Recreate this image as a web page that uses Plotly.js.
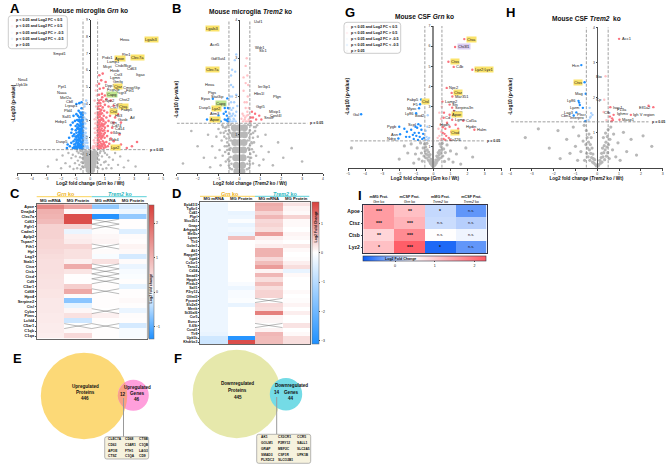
<!DOCTYPE html>
<html><head><meta charset="utf-8">
<script src="https://cdn.plot.ly/plotly-3.0.1.min.js"></script>
<style>html,body{margin:0;padding:0;background:#fff}#g{width:669px;height:470px}</style></head>
<body><div id="g"></div>
<script>
// ---------- Panel A: microglia Grn ko ----------
const aBlue=[[-.55,1.35],[-.6,1.5],[-.7,1.4],[-.8,1.45],[-.9,1.35],[-1.0,1.5],[-.55,1.7],[-.65,1.75],[-.75,1.65],[-.85,1.7],[-.95,1.75],[-1.1,1.6],[-.55,1.95],[-.65,2.0],[-.75,1.95],[-.85,1.9],[-.95,2.0],[-1.05,1.9],[-.55,2.2],[-.65,2.25],[-.75,2.2],[-.85,2.15],[-.95,2.3],[-1.1,2.2],[-.55,2.45],[-.65,2.5],[-.72,2.4],[-.8,2.5],[-.9,2.55],[-1.0,2.45],[-.55,2.7],[-.62,2.75],[-.7,2.7],[-.8,2.75],[-.88,2.8],[-1.0,2.7],[-.55,2.95],[-.62,3.0],[-.7,2.95],[-.8,3.0],[-.9,3.05],[-1.05,3.0],[-.55,3.2],[-.65,3.25],[-.75,3.2],[-.85,3.3],[-.55,3.5],[-.7,3.5],[-.6,3.75],[-.8,3.6],[-.95,3.4],[-1.2,2.9],[-1.25,2.5],[-1.2,2.1],[-1.3,1.7],[-1.2,1.4],[-1.4,1.5],[-1.55,1.6],[-1.45,2.0],[-1.6,1.4],[-1.3,2.3],[-1.35,2.75],[-.6,4.1],[-.75,4.05],[-.95,4.0],[-1.15,3.3],[-.58,1.42],[-.68,1.55],[-.78,1.82],[-.62,2.1],[-.7,2.32],[-.58,2.58],[-.66,2.85],[-.6,3.08],[-.85,1.55],[-.92,1.85],[-.52,1.5],[-.6,1.62],[-.72,1.52],[-.82,1.6],[-.98,1.42],[-1.08,1.38],[-.52,1.82],[-.7,1.85],[-.88,1.45],[-.9,2.1],[-1.02,2.08],[-.52,2.08],[-.68,2.12],[-.8,2.05],[-.52,2.32],[-.62,2.38],[-.8,2.32],[-.52,2.62],[-.7,2.55],[-.85,2.62],[-1.1,1.45],[-1.15,1.8],[-1.0,1.65],[-.52,3.05],[-.52,3.35],[-.62,3.4],[-.76,3.05],[-.52,2.82]];
const aPaleBlue=[[-.45,1.4],[-.35,1.5],[-.25,1.4],[-.45,1.7],[-.3,1.7],[-.2,1.5],[-.45,2.0],[-.35,2.0],[-.25,1.85],[-.45,2.3],[-.32,2.3],[-.42,2.6],[-.3,2.55],[-.45,2.9],[-.35,2.85],[-.42,3.2],[-.3,3.1],[-.45,3.5],[-.35,3.45],[-.4,3.85],[-.28,4.2],[-.35,4.0],[-.15,1.4],[-.4,1.55],[-.2,1.7],[-.38,1.85],[-.28,2.1],[-.4,2.15],[-.48,1.5],[-.48,1.85],[-.48,2.15],[-.48,2.45],[-.48,2.75],[-.48,3.05]];
const aPink=[[.55,1.35],[.62,1.45],[.72,1.38],[.82,1.5],[.92,1.4],[1.05,1.45],[1.2,1.5],[.55,1.7],[.65,1.75],[.75,1.65],[.85,1.8],[.95,1.7],[1.1,1.75],[1.3,1.65],[.55,2.0],[.65,2.05],[.75,1.95],[.85,2.1],[.98,2.0],[1.15,2.1],[1.4,1.95],[.55,2.3],[.65,2.35],[.75,2.25],[.85,2.4],[1.0,2.3],[1.2,2.4],[1.45,2.3],[.55,2.6],[.65,2.65],[.78,2.55],[.88,2.7],[1.0,2.6],[1.2,2.7],[1.5,2.6],[.55,2.9],[.65,2.95],[.78,2.85],[.9,3.0],[1.05,2.9],[1.25,3.0],[1.6,2.9],[.55,3.2],[.65,3.25],[.78,3.15],[.92,3.3],[1.1,3.2],[1.35,3.3],[1.7,3.2],[.55,3.5],[.68,3.55],[.8,3.45],[.95,3.6],[1.15,3.5],[1.45,3.6],[.55,3.85],[.7,3.9],[.85,3.8],[1.0,3.95],[1.25,3.85],[1.6,3.9],[.6,4.2],[.75,4.25],[.9,4.15],[1.1,4.3],[1.4,4.2],[.6,4.55],[.8,4.6],[1.0,4.5],[1.2,4.65],[.65,4.9],[.9,4.95],[.6,5.2],[.75,5.4],[1.05,5.3],[.62,5.7],[.85,5.8],[2.1,1.6],[2.5,1.4],[3.2,1.75],[2.85,1.5],[2.0,2.2],[2.1,2.9],[1.9,3.4],[1.75,1.5],[1.6,1.8],[.6,1.55],[.7,2.15],[.8,2.75],[.6,3.05],[.7,3.4],[.52,1.5],[.58,1.85],[.68,1.5],[.78,1.52],[.88,1.62],[1.0,1.55],[.52,2.15],[.62,2.2],[.8,2.05],[.92,2.2],[.52,2.45],[.6,2.5],[.72,2.45],[.95,2.45],[.52,2.75],[.62,2.8],[.72,2.72],[.95,2.8],[.52,3.35],[.62,3.4],[.72,3.05],[.85,3.1],[.52,3.7],[.62,3.7],[.75,3.65],[.52,4.05],[.68,4.05],[.82,4.4]];
const aPalePink=[[.45,1.4],[.35,1.5],[.25,1.4],[.45,1.7],[.3,1.7],[.2,1.5],[.45,2.0],[.35,2.0],[.25,1.85],[.45,2.3],[.32,2.3],[.42,2.6],[.3,2.55],[.45,2.9],[.35,2.85],[.42,3.2],[.3,3.1],[.45,3.5],[.35,3.45],[.4,3.85],[.3,4.2],[.45,4.5],[.38,4.8],[.15,1.4],[.4,1.55],[.42,5.1],[.48,1.5],[.48,1.85],[.48,2.15],[.48,2.45],[.48,2.75],[.48,3.05]];
const aGray=[[-2.9,.3],[-2.3,.7],[-2.0,.2],[-1.9,.95],[-1.7,.5],[-1.5,1.1],[-1.4,.3],[-1.3,.8],[-1.2,1.0],[-1.15,.15],[-1.05,.5],[-1.0,.9],[-.9,.2],[-.85,.65],[-.8,1.1],[-.75,.4],[-.7,.85],[-.65,.15],[-.62,1.05],[-.6,.55],[-.55,.3],[1.05,.6],[1.1,.2],[1.15,1.0],[1.25,.4],[1.3,.85],[1.45,.2],[1.55,.7],[1.7,1.1],[1.9,.4],[2.05,.9],[2.3,.25],[2.6,.65],[3.1,.3],[.55,.2],[.6,.7],[.65,1.1],[.72,.4],[.8,.9],[.85,.15],[.95,.55],[1.0,1.1],[-.55,1.2],[-.68,1.22],[-.9,1.2],[-.55,.8],[.55,.95],[.7,1.2],[.92,1.22],[-.45,.25],[-.5,.5],[-.48,.72],[-.5,1.0],[.45,.25],[.5,.5],[.48,.72],[.5,1.0]];
const aCore=[[-.12,.1],[.12,.1],[-.22,.35],[0,.35],[.22,.35],[-.25,.6],[0,.6],[.25,.6],[-.28,.85],[0,.85],[.28,.85],[-.3,1.1],[0,1.1],[.3,1.1]];
const aLabels=["Lgals3","Hexa","Rtn1","Clec7a","Apoe","Prdx1","Lamp1","Ctsb/Bcp","Mcpt","Hexb","Cd63","Itgax","Cst3","Lgmn","Gmfg","Dpp7","Ctsz","Cmsp/Gp","Fth1","Fcgr2b","Fcgr3","Capg","Npc2","Chst2","Cd68","Ctsa","Cst7","Fabp5","Ctsl","Hk3","Gusb","Grn","Cd14","Il4ra","Aif","Cd74","Lilrb4","Lyz2","Neu4","Upk1b","Smpd1","Ppt1","Naaa","Mef2a","Cbll","Lrpap1","Pld4","Sall1","Hebp1","Dusp5"];
const aLabelX=[3.58,1.85,2.0,2.6,1.53,.62,.96,1.53,.7,1.16,2.37,2.95,1.45,1.2,1.38,.85,1.45,2.1,2.3,.95,1.6,.95,.85,1.82,1.4,1.8,1.15,1.95,1.15,1.5,1.7,1.2,1.55,1.35,2.55,1.3,1.1,1.25,-4.13,-4.13,-1.5,-1.44,-1.44,-1.07,-1.03,-.64,-1.03,-1.07,-1.35,-1.39];
const aLabelY=[7.84,7.82,6.9,6.75,6.72,6.75,6.5,6.3,6.2,5.99,6.1,5.73,5.73,5.55,5.35,5.12,5.05,4.97,4.8,4.87,4.68,4.55,4.2,4.25,4.0,3.85,3.77,3.65,3.58,3.3,3.1,2.9,2.55,2.3,3.2,2.75,1.9,1.45,5.45,5.17,6.97,5.02,4.69,4.37,4.15,3.94,3.62,3.29,2.95,1.77];
// ---------- Panel B: microglia Trem2 ko ----------
const bBlue=[[-.55,1.35],[-.6,1.5],[-.7,1.4],[-.8,1.8],[-.9,1.35],[-1.0,1.5],[-.55,1.7],[-.65,1.6],[-.58,1.95],[-.7,1.7],[-.55,1.42],[-.62,1.38],[-1.55,1.4],[-1.22,1.7],[-1.27,1.94],[-.75,1.55]];
const bPaleBlue=[[-.45,1.4],[-.35,1.5],[-.25,1.4],[-.45,1.7],[-.3,1.7],[-.2,1.5],[-.45,2.0],[-.35,2.0],[-.25,1.85],[-.42,1.35],[-.32,1.35],[-.18,1.35],[-.45,1.55],[-.3,1.55],[-.38,1.65],[-.15,1.6],[-.4,1.85],[-.3,2.25],[-.15,2.05],[-.1,1.75],[-.4,2.55],[-.2,2.65],[-.35,2.7],[-.22,2.95],[-.15,3.1],[-.4,2.3],[-.28,1.42],[-.42,1.48]];
const bPink=[[.55,1.35],[.65,1.45],[.8,1.4],[.95,1.5],[.6,1.6],[.75,1.55],[.55,1.45],[1.05,1.4]];
const bPalePink=[[.45,1.4],[.35,1.5],[.25,1.4],[.45,1.7],[.3,1.7],[.2,1.5],[.4,2.0],[.35,1.85],[.25,1.85],[.42,1.35],[.32,1.35],[.18,1.35],[.15,1.55],[.38,1.6],[.42,2.3],[.3,2.35],[.2,2.15],[.38,2.55],[.2,2.5],[.3,2.8],[.35,3.0],[.1,1.42],[.28,1.45],[.42,1.52]];
const bGray=[[-3.1,.65],[-2.7,.25],[-2.3,1.1],[-2.0,.7],[-1.7,.4],[-1.5,1.0],[-1.4,.15],[-1.3,.7],[-1.15,.4],[-1.1,.95],[-1.0,1.15],[-.95,.6],[-.9,.2],[-.85,.85],[-.8,.45],[-.75,1.05],[-.7,.7],[-.65,.3],[-.62,1.2],[.65,.25],[.7,.8],[.75,1.1],[.8,.45],[.88,.95],[.95,.2],[1.05,.7],[1.15,.35],[1.25,1.0],[1.4,.55],[1.6,.2],[1.85,.8],[2.1,.4],[2.5,.65],[3.0,.3],[-.68,1.18],[-.72,.95],[-.62,.9],[-.58,.6],[-.55,.35],[-.5,.2],[-.45,.12],[.45,.12],[.5,.22],[.56,.4],[.6,.62],[.65,.92],[.7,1.2],[-.82,1.25],[.85,1.25],[-.9,1.05],[-.55,1.25],[-.5,1.12],[-.56,1.02],[-.48,.92],[-.58,.8],[-.5,.72],[-.46,.6],[-.52,.5],[-.42,.42],[-.48,.32],[-.38,.24],[-.36,.1],[-.42,1.26],[-.44,1.05],[-.4,.85],[-.42,.65],[.36,.1],[.38,.24],[.48,.32],[.42,.42],[.52,.5],[.46,.6],[.5,.72],[.58,.8],[.48,.92],[.56,1.02],[.5,1.12],[.55,1.25],[.42,1.26],[.44,1.05],[.4,.85],[.42,.65],[-.66,1.1],[-.6,.7],[-.78,1.2],[.78,1.2],[.6,.78],[.66,1.05],[-.68,.55],[.68,.55]];
const bCore=[[-.12,.04],[.12,.04],[-.15,.2],[.15,.2],[-.18,.4],[0,.4],[.18,.4],[-.2,.6],[0,.6],[.2,.6],[-.22,.8],[0,.8],[.22,.8],[-.24,1.0],[0,1.0],[.24,1.0],[-.24,1.18],[0,1.18],[.24,1.18]];
const bLabels=["Uaf1","Wdr1","Slc1","Ier3ip1","Hbs1l","Plgn","Ggt5","Mlxip1","Cpsf4l","Snx8","Lgals3","Acrt5","Gdf3ut4","Clec7a","Hexa","Ptgs","Stat3ip","Epas","Capg","Dusp5","Lyz2","Atm3","Apoe"];
const bLabelX=[.59,.64,.8,.77,.57,1.48,.67,1.32,1.35,1.05,-.88,-.8,-.54,-.86,-1.04,-.99,-.64,-1.27,-.54,-1.22,-.75,-.8,-.8];
const bLabelY=[3.96,3.29,3.19,2.25,2.09,2.0,1.75,1.6,1.5,1.45,3.77,3.35,3.0,2.71,2.31,2.1,2.0,1.94,1.82,1.7,1.68,1.56,1.39];
// ---------- Panel G: CSF Grn ko ----------
const gBlue=[[-.72,3.35],[-.78,3.12],[-.84,2.92],[-1.01,2.67],[-2.0,2.0],[-.88,2.13],[-1.95,1.63],[-2.05,1.42],[-4.23,2.62],[-1.7,1.9],[-1.55,1.75],[-1.4,1.5],[-1.3,1.85],[-1.15,1.4],[-1.1,1.7],[-1.0,1.55],[-.95,1.95],[-.85,1.7],[-.8,1.5],[-.7,1.85],[-.65,1.4],[-.9,1.35],[-1.2,1.6],[-1.6,1.5],[-.75,2.05],[-1.05,2.0],[-.6,1.65],[-.55,1.45]];
const gPaleBlue=[[-.33,2.57],[-.4,1.5],[-.3,1.4],[-.45,1.8],[-.35,2.0],[-.25,1.45],[-.42,1.35]];
const gPink=[[1.81,6.35],[1.27,5.96],[.88,5.23],[1.19,4.97],[2.28,4.83],[.78,3.93],[1.07,3.68],[1.11,3.5],[.53,3.25],[.95,3.1],[1.1,2.95],[1.2,2.78],[.95,2.6],[.6,2.45],[1.1,2.35],[1.75,2.3],[.95,2.0],[1.3,2.1],[2.4,1.85],[.7,1.9],[.55,1.7],[.75,1.55],[.6,1.4],[.9,1.45],[.65,1.65],[1.05,1.75],[.55,1.98],[.8,2.2],[.62,2.7],[1.45,1.9],[.7,1.35],[1.0,1.35]];
const gPalePink=[[.45,1.4],[.35,1.55],[.25,1.45],[.45,1.75],[.3,1.9],[.4,2.1],[.45,2.4],[.35,2.7],[.49,3.0],[.42,1.35]];
const gGray=[[-4.8,.95],[-2.0,.4],[-1.7,1.05],[-1.5,.7],[-1.3,1.15],[-1.15,.2],[-1.05,.65],[-.95,.95],[-.85,.4],[-.75,1.2],[-.7,.7],[-.65,.3],[-.6,.95],[-.55,.55],[-.52,1.15],[-.48,.8],[-.45,1.0],[-.42,.65],[-.4,.45],[-.38,1.18],[-.36,.85],[-.33,.6],[-.3,.35],[-.28,.75],[-.25,.5],[-.22,.28],[-.2,.62],[-.17,.18],[-.14,.38],[-.1,.1],[-.08,.25],[-.04,.05],[.04,.05],[.08,.22],[.1,.12],[.14,.35],[.17,.2],[.2,.55],[.22,.3],[.25,.48],[.28,.72],[.3,.38],[.33,.6],[.36,.82],[.38,1.15],[.4,.45],[.42,.68],[.45,1.02],[.48,.85],[.52,1.18],[.55,.55],[.6,.9],[.65,.28],[.7,.72],[.8,1.1],[.9,.4],[1.0,.8],[1.15,.25],[1.35,.65],[1.6,.15],[1.9,.95],[2.3,.5]];
const gLabels=["Ctsa","Chi3l1","Ctss","C4b","Lyz2;Lyz1","Npc2","Ctsz","Mar351","Lamp2","Sts","Serpina3n","Psap","Apoe","Cd","Lgmn","Col5a","Hgdh","Hydin","Halm","Ctsd","Ca726","Ctsl","Gal","Fabp5","F5","Myoc","Ly86","Bod2","Pygb","Scpl","Asn","Ndrg"];
const gLabelX=[1.81,1.27,.88,1.19,2.28,.78,1.07,1.11,.53,.95,1.1,1.0,.95,.55,1.1,1.75,.25,1.75,2.4,.9,.75,-.1,-4.23,-.72,-.78,-.84,-1.01,-.33,-2.0,-.88,-1.95,-2.05];
const gLabelY=[6.35,5.96,5.23,4.97,4.83,3.93,3.68,3.5,3.25,3.1,2.95,2.78,2.6,2.45,2.35,2.3,2.1,2.0,1.85,1.7,1.35,3.25,2.62,3.35,3.12,2.92,2.67,2.57,2.0,2.13,1.63,1.42];
// ---------- Panel H: CSF Trem2 ko ----------
const hBlue=[[-.73,2.92],[-.58,2.43],[-.53,2.1],[-.86,1.9],[-.83,1.85],[-.8,1.78],[-.66,1.7],[-.96,1.57],[-1.08,1.48],[-.55,1.32]];
const hPaleBlue=[[-.35,1.7],[-.28,1.55],[-.3,1.45],[-.22,1.5],[-.4,1.35],[-.33,1.42]];
const hPink=[[1.0,3.67],[.6,1.72],[2.57,1.72],[2.35,1.76],[1.54,1.5],[1.02,1.36],[.68,1.4],[.75,1.5],[.65,1.32],[.58,1.45],[.72,1.35]];
const hPalePink=[[.38,2.6],[.32,1.93],[.29,1.58],[.42,1.35]];
const hGray=[[-3.3,.85],[-2.7,1.1],[-2.2,.55],[-1.8,1.05],[-1.7,.25],[-1.4,.8],[-1.25,.4],[-1.1,1.15],[-1.0,.6],[-.9,.2],[-.85,.9],[-.75,.45],[-.65,.75],[-.6,1.2],[-.58,.2],[-.52,.65],[-.5,1.05],[-.48,.4],[-.46,.85],[-.44,.55],[-.42,.3],[-.4,.72],[-.38,.95],[-.36,.5],[-.34,.2],[-.32,.65],[-.3,.4],[-.28,.85],[-.26,.28],[-.24,.55],[-.22,.15],[-.2,.38],[-.18,.25],[-.15,.12],[-.12,.22],[-.08,.08],[-.04,.04],[.04,.04],[.08,.08],[.12,.2],[.15,.12],[.18,.28],[.2,.4],[.22,.15],[.24,.55],[.26,.3],[.28,.85],[.3,.42],[.32,.62],[.34,.22],[.36,.5],[.38,.98],[.4,.72],[.42,.32],[.44,.58],[.46,.88],[.48,.42],[.5,1.08],[.52,.65],[.55,.25],[.58,.8],[.62,1.15],[.7,.5],[.75,.95],[.85,.3],[.95,.7],[1.05,.2],[1.2,1.0],[1.35,.45],[1.55,.8],[1.8,.35],[2.1,.9],[2.5,.6]];
const hLabels=["Acc1","Hcn","Ctss","Mag","Bio","Ly86","Lyzm","Cp","Isoc1","Efl1a2","F13a","Cfb","Lag3","Ighmv","Cbn1","Plscr","Interpro","Igh V region","Masp1"];
const hLabelX=[1.0,-.73,-.58,-.53,.38,-.86,-.66,.32,.6,2.57,.8,.21,-.96,.8,-1.08,-.35,-.44,1.54,1.02];
const hLabelY=[3.67,2.92,2.43,2.1,2.6,1.9,1.7,1.93,1.72,1.72,1.64,1.58,1.57,1.53,1.48,1.52,1.42,1.5,1.36];
const leftLabels=["Efl1a2","Bio","Cp"];
// ---------- Panel C heatmap ----------
const cGenes=["Apoe","Dnajb4","Clec7a","Cd63","Fgfr1","Cadm1","Aplp2","Tspan7","Fth1","Hpl","Lag3","Stab1","Ctsa","Ctsb","Ctsd","Cd9","C3ar1","Cd68","Hpx4","Serpine2","Ctsl","Cyba","Ptms","Lcfd4","C5ar1","C1qb","C1qa"];
const cGrnRna=[1.6,1.05,1.0,.9,.6,.6,.6,.55,.55,.5,.45,.42,.42,.42,.4,.38,.38,.35,.35,.3,.3,.3,.28,.28,.25,.25,.22];
const cGrnProt=[1.2,.08,2.35,2.35,.6,-.12,.2,.25,.55,.4,.4,.2,1.1,.35,.02,.02,.65,1.15,.05,-.7,-.15,.12,.4,-.3,null,.08,.5];
const cTremRna=[-.65,-.05,-1.3,null,null,.04,.1,.14,null,.05,-.04,.4,null,null,null,null,.02,null,.02,.02,.02,null,.2,.02,null,.02,.02];
const cTremProt=[-.25,-.1,-.65,.03,.03,-.2,.05,.03,.15,.08,-.25,.05,-.12,-.05,-.03,.02,-.15,.03,.03,.08,.02,-.12,.04,.03,-.25,-.05,-.05];
// ---------- Panel D heatmap ----------
const dGenes=["Epb41l3","Tgfbr1","Cd41","Plgrl","Slco2b1","Gnap","Arhgap6","Mef2c","Lgmn","Tlr3","Golm1","Ak1","Rapgef5","Itga6","Cx3cr1","Tanc2","Cd34","Smad3","Hpgds","Plxdc2","Sall1","P2ry12","Olfml3","Pycard","Slc2a5","Mertk","St3Gal6","Ccr5","Evesr","Il-6St","Ccnd1","Tlr9","Upk1b","Khdrbs3"];
const dGrnRna=[-.25,-.25,-.25,-.25,-.25,-.25,-.25,-.25,-.25,-.25,-.25,-.25,-.25,-.25,-.25,-.25,-.25,-.25,-.25,-.25,-.25,-.25,-.25,-.25,-.25,-.25,-.25,-.25,-.25,-.25,-.25,-.3,-.65,-.7];
const dGrnProt=[0,0,-.3,-.25,-.05,-.3,-.2,-.3,.6,0,0,0,0,0,0,0,0,0,0,-.1,-.25,-.1,-.1,-.05,-.3,0,0,0,0,0,0,0,-3,1.6];
const dTremRna=[.75,.7,.4,.65,.35,.4,.3,.9,.15,.05,.15,.7,.7,.35,.6,.9,.1,.65,.3,.6,.3,.4,.4,null,.35,.3,1.15,.1,.08,null,.1,.65,.6,.6];
const dTremProt=[.25,.1,.05,.4,.05,.05,0,.1,.05,0,.2,.05,0,.03,.15,.3,-.3,.05,0,0,0,.05,0,.03,.1,0,.15,0,0,.25,0,.05,.3,.3];
const heatCols=["MG mRNA","MG Protein","MG mRNA","MG Protein"];
// ---------- Panel I heatmap ----------
const iGenes=["Apoe","Ctsz","Ctsb","Lyz2"];
const iCols=["mMG Prot.<br><i>Grn</i> ko","mCSF Prot.<br><i>Grn</i> ko","mMG Prot.<br><i>Trem2</i> ko","mCSF Prot.<br><i>Trem2</i> ko"];
const iValues=[[1.56,1.15,.14,-.36],[1.56,1.28,.17,.07],[.91,1.75,.45,.36],[1.15,2.25,-.7,-.36]];
const iSig=[["***","**","*","n.s."],["***","***","n.s.","n.s."],["**","***","n.s.","n.s."],["*","***","*","n.s."]];
// ---------- Panels E, F Venn ----------
const eGenes=["CLEC7A","CD63","APOE","CTSZ","CD68","C3AR1","FTH1","C1QA","CTSB","C1QB","LAG3","CD9"];
const fGenes=["AK1","GOLM1","GRAP","SMAD3","PLXDC2","CX3CR1","P2RY12","MEF2C","CSF1R","SLCO2B1","CCR5","SALL1","SLC2A5","UPK1B"];
const vennE=["Upregulated<br>Proteins<br>446","Upregulated<br>Genes<br>46","12"];
const vennF=["Downregulated<br>Proteins<br>445","Downregulated<br>Genes<br>44","14"];
const legendItems=["p < 0.05 and Log2 FC < 0.5","p < 0.05 and Log2 FC > 0.5","p < 0.05 and Log2 FC > -0.5","p < 0.05 and Log2 FC < -0.5","p > 0.05"];

const W=669,H=470,FONT='"Liberation Sans",Arial,sans-serif';
const fx=x=>x/W, fy=y=>1-y/H;
const BLUE='#1e8fff',PBLUE='#aad2ff',RED='#fb7480',PRED='#ffc2c6',GRAY='#b8b8b8';
const HIGH={Lgals3:'#fbe36a',Clec7a:'#fbe36a',Apoe:'#fbe36a',Ctsz:'#fbe36a',Ctsa:'#fbe36a',Lyz2:'#fbe36a',Ctss:'#fbe36a','Lyz2;Lyz1':'#fbe36a',Ctsd:'#fbe36a',Ctsl:'#fbe36a',Capg:'#bfe58f',Chi3l1:'#dccdf2'};
const traces=[],shapes=[],annotations=[],layout={};
function txt(x,y,text,o={}){annotations.push({xref:'paper',yref:'paper',x:fx(x),y:fy(y),text,showarrow:false,
  xanchor:o.xa||'center',yanchor:'middle',textangle:o.angle||0,align:o.align||'center',
  font:{family:FONT,size:o.size||4,color:o.color||'#111'}});}
function pts(ax,arr,color,size){traces.push({type:'scatter',mode:'markers',xaxis:'x'+ax,yaxis:'y'+ax,
  x:arr.map(p=>p[0]),y:arr.map(p=>p[1]),marker:{color,size,line:{width:0}},hoverinfo:'skip',showlegend:false});}
function roundRect(x0,x1,y0,y1,r,fill,lineColor,lw){
  const X=v=>fx(v),Y=v=>fy(v);
  shapes.push({type:'path',xref:'paper',yref:'paper',fillcolor:fill,line:{color:lineColor,width:lw},
    path:`M ${X(x0+r)} ${Y(y0)} L ${X(x1-r)} ${Y(y0)} Q ${X(x1)} ${Y(y0)} ${X(x1)} ${Y(y0+r)} L ${X(x1)} ${Y(y1-r)} Q ${X(x1)} ${Y(y1)} ${X(x1-r)} ${Y(y1)} L ${X(x0+r)} ${Y(y1)} Q ${X(x0)} ${Y(y1)} ${X(x0)} ${Y(y1-r)} L ${X(x0)} ${Y(y0+r)} Q ${X(x0)} ${Y(y0)} ${X(x0+r)} ${Y(y0)} Z`});
}
function volcano(n,p){
  const sfx=n===1?'':String(n);
  const ppuX=(p.x1-p.x0)/(p.xr[1]-p.xr[0]);
  layout['xaxis'+sfx]={domain:[fx(p.x0),fx(p.x1)],range:p.xr,anchor:'y'+sfx,dtick:1,tickmode:'linear',tick0:0,ticks:'outside',ticklen:2,tickwidth:.6,
    showgrid:false,zeroline:false,showline:true,linecolor:'#444',linewidth:.8,tickfont:{size:3.5,family:FONT,color:'#333'},
    title:{text:p.xtitle,font:{size:4.7,family:FONT,color:'#111'},standoff:0}};
  layout['yaxis'+sfx]={domain:[fy(p.yb),fy(p.yt)],range:[p.yBottom,p.ymax],anchor:'free',position:fx(p.x0+(0-p.xr[0])*ppuX),
    tickmode:'array',tickvals:p.yticks,ticks:'outside',ticklen:1.5,tickwidth:.5,showgrid:false,zeroline:false,showline:true,linecolor:p.ycolor,linewidth:p.yw,
    tickfont:{size:3.5,family:FONT,color:'#333'}};
  if(p.core)pts(sfx||'',p.core,GRAY,p.coreSize);
  pts(sfx||'',p.gray,GRAY,p.gs);
  pts(sfx||'',p.paleBlue,PBLUE,p.ms);pts(sfx||'',p.palePink,PRED,p.ms);
  pts(sfx||'',p.pink,RED,p.ms);pts(sfx||'',p.blue,BLUE,p.ms);
  const xr='x'+sfx,yr='y'+sfx;
  [-.5,.5].forEach(v=>shapes.push({type:'line',xref:xr,yref:yr,x0:v,x1:v,y0:p.yBottom,y1:p.ymax,line:{color:'#888',width:.8,dash:'3px,1.5px'}}));
  shapes.push({type:'line',xref:xr,yref:yr,x0:p.pl[0],x1:p.pl[1],y0:1.3,y1:1.3,line:{color:'#888',width:.8,dash:'3px,1.5px'}});
  annotations.push({xref:xr,yref:yr,x:p.pl[1],y:1.3,text:'<b>p = 0.05</b>',showarrow:false,xanchor:'left',xshift:1,font:{family:FONT,size:3.6,color:'#222'}});
  p.lab.forEach((name,i)=>{const right=p.lx[i]>0&&!leftLabels.includes(name);
    const a={xref:xr,yref:yr,x:p.lx[i],y:p.ly[i],text:name,showarrow:false,xanchor:right?'left':'right',xshift:right?1.5:-1.5,
      font:{family:FONT,size:4,color:'#222'},borderpad:0};
    if(HIGH[name])a.bgcolor=HIGH[name];annotations.push(a);});
  txt(p.yt_x,p.yt_y,'<b>-Log10 (p-value)</b>',{angle:-90,size:4.8});
  txt(p.tx,p.ty,p.title,{size:6.6});
}
volcano(1,{x0:17.3,x1:163.3,xr:[-5,5],yb:173,yt:19.5,yBottom:-.083,ymax:9,yticks:[1,2,3,4,5,6,7,8,9],ycolor:'#333',yw:1.2,gray:aGray,core:aCore,coreSize:6,gs:2.4,ms:2.6,
  paleBlue:aPaleBlue,palePink:aPalePink,pink:aPink,blue:aBlue,pl:[-5.7,3.9],lab:aLabels,lx:aLabelX,ly:aLabelY,yt_x:12.7,yt_y:103,tx:90.6,ty:11,
  title:'<b>Mouse microglia <i>Grn</i> ko</b>',xtitle:'<b>Log2 fold change (<i>Grn</i> ko / Wt)</b>'});
volcano(2,{x0:176.7,x1:323,xr:[-3,4],yb:173,yt:20,yBottom:0,ymax:4,yticks:[1,2,3,4],ycolor:'#333',yw:1.2,gray:bGray,core:bCore,coreSize:7,gs:2.6,ms:2.4,
  paleBlue:bPaleBlue,palePink:bPalePink,pink:bPink,blue:bBlue,pl:[-3,3.25],lab:bLabels,lx:bLabelX,ly:bLabelY,yt_x:177,yt_y:100,tx:250,ty:11.7,
  title:'<b>Mouse microglia <i>Trem2</i> ko</b>',xtitle:'<b>Log2 fold change (<i>Trem2</i> ko / Wt)</b>'});
volcano(3,{x0:348,x1:501.7,xr:[-5,4],yb:167.7,yt:26,yBottom:-.03,ymax:7,yticks:[1,2,3,4,5,6,7],ycolor:'#888',yw:1.6,gray:gGray,gs:3.2,ms:2.4,
  paleBlue:gPaleBlue,palePink:gPalePink,pink:gPink,blue:gBlue,pl:[-4.85,2.95],lab:gLabels,lx:gLabelX,ly:gLabelY,yt_x:347,yt_y:97,tx:424,ty:16.7,
  title:'<b>Mouse CSF <i>Grn</i> ko</b>',xtitle:'<b>Log2 fold change (<i>Grn</i> ko / Wt)</b>'});
volcano(4,{x0:510,x1:662.7,xr:[-4,3],yb:167.7,yt:27.3,yBottom:-.01,ymax:4,yticks:[1,2,3,4],ycolor:'#555',yw:1,gray:hGray,gs:3.2,ms:2.4,
  paleBlue:hPaleBlue,palePink:hPalePink,pink:hPink,blue:hBlue,pl:[-3.95,2.35],lab:hLabels,lx:hLabelX,ly:hLabelY,yt_x:510,yt_y:97,tx:586,ty:18.7,
  title:'<b>Mouse CSF <i>Trem2</i>  ko</b>',xtitle:'<b>Log2 fold change (<i>Trem2</i> ko / Wt)</b>'});

function heat(n,cols,genes,o){
  const sfx=String(n),z=genes.map((g,i)=>cols.map(c=>c[i]));
  layout['xaxis'+sfx]={domain:[fx(o.x0),fx(o.x1)],range:[-.5,3.5],anchor:'y'+sfx,side:'top',tickmode:'array',tickvals:[0,1,2,3],
    ticktext:heatCols.map(c=>'<b>'+c+'</b>'),ticks:'',showgrid:false,zeroline:false,showline:true,mirror:true,linecolor:'#666',linewidth:.7,ticklen:0,
    tickfont:{size:4.2,family:FONT,color:'#111'}};
  layout['yaxis'+sfx]={domain:[fy(o.y1),fy(o.y0)],range:[genes.length-.5,-.5],anchor:'x'+sfx,tickmode:'array',tickvals:genes.map((g,i)=>i),
    ticktext:genes.map(g=>'<b>'+g+'</b>'),ticks:'outside',ticklen:1,tickwidth:.5,showgrid:false,zeroline:false,showline:true,mirror:true,linecolor:'#666',linewidth:.7,
    tickfont:{size:o.rowFont,family:FONT,color:'#111'}};
  traces.push({type:'heatmap',xaxis:'x'+sfx,yaxis:'y'+sfx,z,x:[0,1,2,3],y:genes.map((g,i)=>i),zmin:o.zmin,zmax:o.zmax,hoverinfo:'skip',
    colorscale:[[0,'#1e90ff'],[(0-o.zmin)/(o.zmax-o.zmin),'#ffffff'],[1,'#d8403c']],
    colorbar:{x:fx(o.cx),xanchor:'left',y:fy(o.y1),yanchor:'bottom',len:(o.y1-o.y0)/H,lenmode:'fraction',thickness:o.cw,thicknessmode:'pixels',xpad:0,ypad:0,
      tickmode:'array',tickvals:o.cticks,ticks:'outside',ticklen:1.5,tickwidth:.5,outlinewidth:.5,outlinecolor:'#666',tickfont:{size:3.5,family:FONT,color:'#222'}}});
  const cx=[],cy=[];
  z.forEach((r,i)=>r.forEach((v,j)=>{if(v===null){cx.push(j-.5,j+.5,null,j-.5,j+.5,null);cy.push(i-.5,i+.5,null,i+.5,i-.5,null);}}));
  traces.push({type:'scatter',mode:'lines',xaxis:'x'+sfx,yaxis:'y'+sfx,x:cx,y:cy,line:{color:'#777',width:.5},hoverinfo:'skip',showlegend:false,connectgaps:false});
}
heat(5,[cGrnRna,cGrnProt,cTremRna,cTremProt],cGenes,{x0:36.7,x1:146.7,y0:204.2,y1:338.5,zmin:-1.35,zmax:2.54,cx:149,cw:5,cticks:[-1,0,1,2],rowFont:3.9});
heat(6,[dGrnRna,dGrnProt,dTremRna,dTremProt],dGenes,{x0:200,x1:310,y0:202.3,y1:344.3,zmin:-3.13,zmax:1.73,cx:312,cw:6.5,cticks:[-3,-2,-1,0,1],rowFont:3.5});
[[36.7,91.7,65.7,'#fbd35b','<b><i>Grn</i> ko</b>','#eeb21c',196.7,194],[91.7,146.7,120.7,'#5cd0d8','<b><i>Trem2</i> ko</b>','#2fb8bf',196.7,194],
 [200,255,230,'#fbd35b','<b><i>Grn</i> ko</b>','#eeb21c',196.3,193.6],[255,309.3,285,'#5cd0d8','<b><i>Trem2</i> ko</b>','#2fb8bf',196.3,193.6]].forEach(h=>{
  shapes.push({type:'line',xref:'paper',yref:'paper',x0:fx(h[0]),x1:fx(h[1]),y0:fy(h[6]),y1:fy(h[6]),line:{color:h[3],width:1}});
  txt(h[2],h[7],h[4],{size:5.4,color:h[5]});});
shapes.push({type:'rect',xref:'paper',yref:'paper',x0:fx(146.9),x1:fx(149),y0:fy(204.2),y1:fy(338.5),fillcolor:'#b0b0b0',line:{width:0}});
txt(151.4,288,'<b>Log2 fold change</b>',{angle:-90,size:3.6});
txt(315.5,227,'<b>Log2 Fold Change</b>',{angle:-90,size:3.6});

// Panel I
layout.xaxis7={domain:[fx(363.3),fx(486.7)],range:[-.5,3.5],anchor:'y7',side:'top',tickmode:'array',tickvals:[0,1,2,3],ticktext:iCols.map(c=>'<b>'+c.replace('<br>','</b><br>')),
  ticks:'',showgrid:false,zeroline:false,showline:true,mirror:true,linecolor:'#334',linewidth:1,tickfont:{size:3.7,family:FONT,color:'#111'}};
layout.yaxis7={domain:[fy(253.3),fy(205)],range:[3.5,-.5],anchor:'x7',tickmode:'array',tickvals:[0,1,2,3],ticktext:iGenes.map(g=>'<b>'+g+'</b>'),ticks:'outside',ticklen:1.5,tickwidth:.5,
  showgrid:false,zeroline:false,showline:true,mirror:true,linecolor:'#334',linewidth:1,tickfont:{size:5,family:FONT,color:'#111'}};
traces.push({type:'heatmap',xaxis:'x7',yaxis:'y7',z:iValues,x:[0,1,2,3],y:[0,1,2,3],zmin:-.8,zmax:2.3,hoverinfo:'skip',
  colorscale:[[0,'#0a5cf5'],[.4,'#ffffff'],[1,'#ff5a64']],
  colorbar:{orientation:'h',x:fx(363.3),xanchor:'left',y:fy(256.3),yanchor:'top',len:123.4/W,lenmode:'fraction',thickness:5.4,thicknessmode:'pixels',xpad:0,ypad:0,
    tickmode:'array',tickvals:[0,1,2],ticks:'outside',ticklen:1.5,tickwidth:.5,outlinewidth:.6,outlinecolor:'#334',tickfont:{size:3.6,family:FONT,color:'#222'}}});
iSig.forEach((r,i)=>r.forEach((s,j)=>annotations.push({xref:'x7',yref:'y7',x:j,y:i,text:s==='n.s.'?s:'<b>'+s+'</b>',showarrow:false,font:{family:FONT,size:s==='n.s.'?3.8:5,color:'#111'}})));
txt(400,259,'<b>Log2 Fold Change</b>',{size:3.6});

// Venn E
function circle(cx,cy,r,fill){shapes.push({type:'circle',xref:'paper',yref:'paper',x0:fx(cx-r),x1:fx(cx+r),y0:fy(cy+r),y1:fy(cy-r),fillcolor:fill,line:{width:0},layer:'below'});}
circle(84,396,43.2,'#fcd977');circle(133.3,395.3,15.5,'#ff9fdc');
shapes.push({type:'path',xref:'paper',yref:'paper',layer:'below',fillcolor:'#f8a184',line:{width:0},
  path:`M ${fx(125.1)} ${fy(382.3)} Q ${fx(129.3)} ${fy(395.6)} ${fx(125.1)} ${fy(408.9)} Q ${fx(110.5)} ${fy(395.6)} ${fx(125.1)} ${fy(382.3)} Z`});
vennE[0].split('<br>').forEach((s,i)=>txt(85,386+i*6.4,'<b>'+s+'</b>',{size:4.6}));
vennE[1].split('<br>').forEach((s,i)=>txt(137,387+i*6.2,'<b>'+s+'</b>',{size:4.6}));
txt(123.5,394,'<b>'+vennE[2]+'</b>',{size:4.6});
function geneBox(x0,x1,y0,y1,genes,rows,colX,leadX,leadY){
  shapes.push({type:'line',xref:'paper',yref:'paper',x0:fx(leadX),x1:fx(leadX),y0:fy(leadY),y1:fy(y0),line:{color:'#999',width:1}});
  roundRect(x0,x1,y0,y1,2,'#f6f2de','#999',.7);
  genes.forEach((g,i)=>{const c=Math.floor(i/rows),r=i%rows;
    txt(colX[c],y0+(y1-y0)*(r+.5)/rows,'<b>'+g+'</b>',{xa:'left',size:3.3});});
}
geneBox(104.7,148.7,436.7,459,eGenes,4,[106,122.5,137],123.5,398);
// Venn F
circle(236.7,394,44.2,'#e6e8ab');circle(286,394.3,16.2,'#74dbe6');
vennF[0].split('<br>').forEach((s,i)=>txt(237.5,383.5+i*7,'<b>'+s+'</b>',{size:4.6}));
txt(291,385.5,'<b>Downregulated</b>',{size:4.6});
txt(291,392.5,'<b>Genes</b>',{size:4.6});txt(291,398.5,'<b>44</b>',{size:4.6});
txt(276.5,392.5,'<b>'+vennF[2]+'</b>',{size:4.6});
geneBox(256.7,310.7,434.3,463.3,fGenes,5,[259,276,294.5],276.7,397);

// Legends
function legend(x0,x1,y0,y1,mx,ys){
  roundRect(x0,x1,y0,y1,3,'rgba(255,255,255,.9)','#aaa',.6);
  traces.push({type:'scatter',mode:'markers',xaxis:'x8',yaxis:'y8',x:ys.map(()=>mx),y:ys,marker:{size:2.6,color:[PRED,RED,PBLUE,BLUE,GRAY]},hoverinfo:'skip',showlegend:false});
  legendItems.forEach((t,i)=>txt(mx+2,ys[i],'<b>'+t+'</b>',{xa:'left',size:3.7}));
}
layout.xaxis8={domain:[0,1],range:[0,W],visible:false,anchor:'y8'};
layout.yaxis8={domain:[0,1],range:[H,0],visible:false,anchor:'x8'};
legend(8.3,67.3,15.7,48.7,12,[20.3,26.3,32.7,38.7,45]);
legend(344,400.7,22.3,53.3,347,[26.7,33,39,45,51]);

[["A",15,8],["B",176,8],["G",350,13],["H",511,13],["C",15,193],["D",176,193],["E",17,358],["F",178,358],["I",360,196]].forEach(l=>txt(l[1],l[2],'<b>'+l[0]+'</b>',{size:13,color:'#000'}));

Object.assign(layout,{width:W,height:H,margin:{l:0,r:0,t:0,b:0,pad:0},paper_bgcolor:'#fff',plot_bgcolor:'rgba(0,0,0,0)',showlegend:false,font:{family:FONT},shapes,annotations});
Plotly.newPlot('g',traces,layout,{displayModeBar:false,responsive:false});
</script></body></html>
